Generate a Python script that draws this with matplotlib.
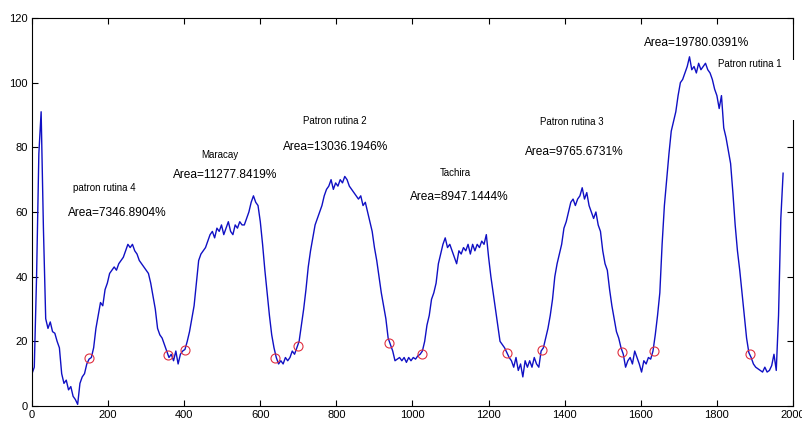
import numpy as np
import matplotlib
matplotlib.use("Agg")
import matplotlib.pyplot as plt
from matplotlib.patches import Rectangle

plt.rcParams['font.family'] = ['Liberation Sans', 'DejaVu Sans']

# Sample positions (every 6 samples) and the measured signal level at each
sample_x = list(range(0, 1980, 6))
signal = [
    10, 12, 40, 78, 91, 55, 27, 24, 26, 23,
    22.5, 20, 18, 10, 7, 8, 5, 6, 3, 2,
    0.5, 7, 9, 10, 13, 14.5, 15, 18, 24, 28,
    32, 31, 36, 38, 41, 42, 43, 42, 44, 45,
    46, 48, 50, 49, 50, 48, 47, 45, 44, 43,
    42, 41, 38, 34, 30, 24, 22, 21, 19, 17,
    15, 16, 14, 17, 13, 16, 17, 17.5, 20, 23,
    27, 31, 38, 45, 47, 48, 49, 51, 53, 54,
    52, 55, 54, 56, 53, 55, 57, 54, 53, 56,
    55, 57, 56, 56, 58, 60, 63, 65, 63, 62,
    57, 50, 42, 35, 28, 22, 18, 15, 13, 14,
    13, 15, 14, 15, 17, 16, 18, 20, 25, 30,
    36, 43, 48, 52, 56, 58, 60, 62, 65, 67,
    68, 70, 67, 69, 68, 70, 69, 71, 70, 68,
    67, 66, 65, 64, 65, 62, 63, 60, 57, 54,
    49, 45, 40, 35, 31, 27, 21, 19, 17, 14,
    14.5, 15, 14, 15, 13.5, 15, 14, 15, 14.5, 15.5,
    16, 17, 20, 25, 28, 33, 35, 38, 44, 47,
    50, 52, 49, 50, 48, 46, 44, 48, 47, 49,
    48, 50, 47, 50, 48, 50, 49, 51, 50, 53,
    46, 40, 35, 30, 25, 20, 19, 18, 16.5, 15,
    14, 12, 15, 11, 13, 9, 14, 12, 14, 12,
    15, 13, 12, 17, 18, 21, 24, 28, 33, 40,
    44, 47, 50, 55, 57, 60, 63, 64, 62, 64,
    65, 67.5, 64, 66, 62, 60, 58, 60, 56, 54,
    48, 44, 42, 36, 31, 27, 23, 21, 18, 16,
    12, 14, 15, 13, 17, 15, 13, 10.5, 14, 13,
    15, 14.5, 17, 22, 28, 35, 50, 62, 70, 78,
    85, 88, 91, 96, 100, 101, 103, 105, 108, 104,
    105, 103, 106, 104, 105, 106, 104, 103, 101, 98,
    96, 92, 96, 86, 83, 79, 75, 66, 56, 48,
    42, 35, 28, 21, 16.5, 15, 13, 12, 11.5, 11,
    10.5, 12, 10.5, 11, 12.5, 16, 11, 28, 58, 72,
]

# Detected boundary points of each routine window
marker_x = [150, 357, 402, 639, 699, 938, 1025, 1248, 1341, 1551, 1635, 1887]
marker_y = [14.8, 15.8, 17.4, 14.8, 18.6, 19.5, 16.1, 16.4, 17.3, 16.7, 17.0, 16.1]

# Annotation anchors (left edge, vertical centre) and their texts
label_x = [108, 95, 444, 371, 712, 660, 1072, 993, 1335, 1296, 1608, 1803]
label_y = [67.4, 59.7, 77.6, 71.4, 88.0, 80.0, 72.0, 64.6, 87.9, 78.6, 112.3, 105.8]
label_text = ["patron rutina 4", "Area=7346.8904%",
              "Maracay", "Area=11277.8419%",
              "Patron rutina 2", "Area=13036.1946%",
              "Tachira", "Area=8947.1444%",
              "Patron rutina 3", "Area=9765.6731%",
              "Area=19780.0391%", "Patron rutina 1"]

x_ticks = list(range(0, 2001, 200))
y_ticks = list(range(0, 121, 20))

fig = plt.figure(figsize=(8.03, 4.21), dpi=100)
ax = fig.add_axes([32 / 803, 15 / 421, 761 / 803, 388 / 421])

ax.plot(sample_x, signal, color='#1010c4', lw=1.0, zorder=2)
ax.plot(marker_x, marker_y, 'o', mfc='none', mec='#e03040', ms=6.5, mew=0.8, zorder=3)

for x, y, t in zip(label_x, label_y, label_text):
    size = 8.6 if t.startswith("Area") else 7
    ax.text(x, y, t, fontsize=size, ha='left', va='center', color='black')

ax.set_xlim(0, 2000)
ax.set_ylim(0, 120)
ax.set_xticks(x_ticks)
ax.set_yticks(y_ticks)
ax.tick_params(direction='in', length=4, width=0.8, top=True, right=True,
               labelsize=8, pad=3)
for s in ax.spines.values():
    s.set_linewidth(0.8)

# white label backing that breaks the right-hand frame
ax.add_patch(Rectangle((0.991, 0.737), 0.016, 0.155, transform=ax.transAxes,
                       facecolor='white', edgecolor='none', clip_on=False, zorder=5))

fig.savefig("out.png", dpi=100, facecolor='white')
